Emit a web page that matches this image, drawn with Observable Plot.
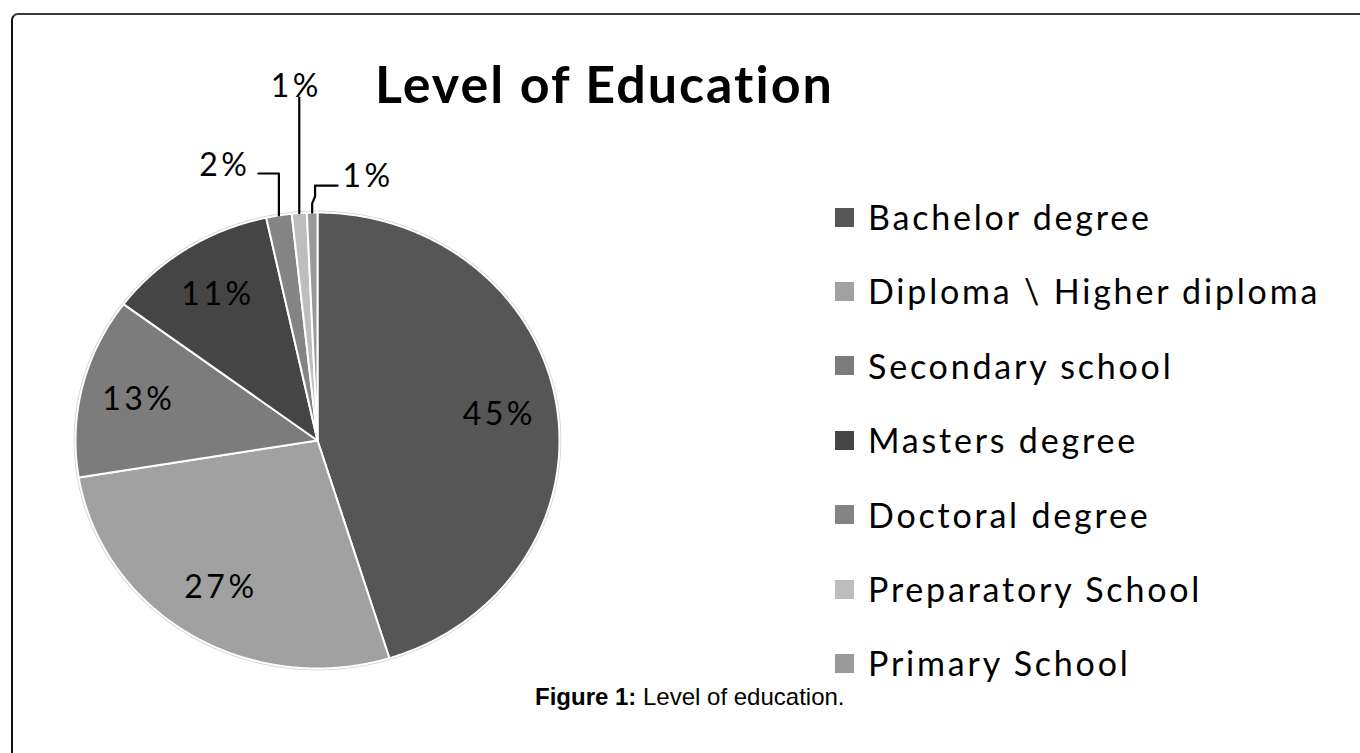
<!DOCTYPE html>
<html><head><meta charset="utf-8">
<script src="https://cdn.jsdelivr.net/npm/d3@7"></script>
<script src="https://cdn.jsdelivr.net/npm/@observablehq/plot@0.6"></script>
<style>
html,body{margin:0;padding:0;background:#fff;}
#wrap{position:relative;width:1360px;height:753px;overflow:hidden;background:#fff;}
#frame{position:absolute;left:11px;top:13px;width:1400px;height:800px;border-top:2px solid #383838;border-left:2px solid #111;border-top-left-radius:7px;}
#chart{position:absolute;left:0;top:0;}
#title{position:absolute;left:375px;top:57px;font-family:Lato;font-weight:bold;font-size:52px;letter-spacing:2px;color:#000;line-height:52px;white-space:nowrap;}
#legend{position:absolute;left:835px;top:0;}
.row{position:absolute;left:0;display:flex;align-items:center;height:32px;white-space:nowrap;font-family:Lato;font-size:34px;line-height:32px;letter-spacing:2.8px;color:#000;}
.sw{width:19px;height:19px;margin-right:14px;flex:none;}
#caption{position:absolute;left:535px;top:685px;font-family:"Liberation Sans",Arial,sans-serif;font-size:24px;line-height:24px;color:#000;white-space:nowrap;}
.pct{letter-spacing:3.5px;}
</style>
</head>
<body>
<div id="wrap">
  <div id="frame"></div>
  <div id="chart"></div>
  <div id="title">Level of Education</div>
  <div id="legend"></div>
  <div id="caption"><b>Figure 1:</b> Level of education.</div>
</div>
<script>
// ---- data ----
const categories = ["Bachelor degree", "Diploma \\ Higher diploma", "Secondary school", "Masters degree", "Doctoral degree", "Preparatory School", "Primary School"];
const shares = [45.2, 27.2, 12.8, 11.4, 1.7, 1.0, 0.7];
const labels = ["45%", "27%", "13%", "11%", "2%", "1%", "1%"];
const colors = ["#565656", "#a1a1a1", "#7c7c7c", "#454545", "#848484", "#bdbdbd", "#9a9a9a"];

// ---- geometry from data ----
const total = d3.sum(shares);
const cum = d3.cumsum(shares);
const slices = categories.map((name, i) => {
  const a0 = ((cum[i] - shares[i]) / total) * 2 * Math.PI;
  const a1 = (cum[i] / total) * 2 * Math.PI;
  return {name, i, a0, a1, mid: (a0 + a1) / 2, color: colors[i], label: labels[i]};
});
const slicePts = [];
for (const s of slices) {
  slicePts.push({name: s.name, color: s.color, x: 0, y: 0});
  const n = Math.max(2, Math.ceil((s.a1 - s.a0) / (Math.PI / 360)));
  for (let k = 0; k <= n; k++) {
    const a = s.a0 + (s.a1 - s.a0) * k / n;
    slicePts.push({name: s.name, color: s.color, x: Math.sin(a), y: -Math.cos(a)});
  }
  slicePts.push({name: s.name, color: s.color, x: 0, y: 0});
}
const rim = d3.range(0, 721).map(k => ({x: Math.sin(k * Math.PI / 360), y: -Math.cos(k * Math.PI / 360)}));

// inside labels for the four large slices
const inner = slices.slice(0, 4).map(s => ({x: 0.76 * Math.sin(s.mid), y: -0.76 * Math.cos(s.mid), text: s.label}));

// callouts for the three small slices (layout in plot units)
const anchor = s => [Math.sin(s.mid), -Math.cos(s.mid)];
const [dx4, dy4] = anchor(slices[4]);
const [dx5, dy5] = anchor(slices[5]);
const [dx6, dy6] = anchor(slices[6]);
const callouts = [
  {name: "d", x: dx4, y: dy4}, {name: "d", x: dx4, y: -1.171}, {name: "d", x: -0.244, y: -1.171},
  {name: "p", x: dx5, y: dy5}, {name: "p", x: dx5, y: -1.504},
  {name: "q", x: dx6, y: dy6}, {name: "q", x: dx6, y: -1.04}, {name: "q", x: dx6 + 0.012, y: -1.07}, {name: "q", x: dx6 + 0.012, y: -1.118}, {name: "q", x: 0.083, y: -1.118}
];
const lblEnd = [{x: -0.277, y: -1.206, text: slices[4].label}];
const lblMid = [{x: dx5 - 0.012, y: -1.553, text: slices[5].label}];
const lblStart = [{x: 0.103, y: -1.158, text: slices[6].label}];

const chart = Plot.plot({
  width: 1360, height: 753, margin: 0,
  x: {domain: [-1, 1], range: [75, 559], axis: null},
  y: {domain: [-1, 1], range: [212, 668], axis: null},
  color: {type: "identity"},
  style: {background: "transparent", fontFamily: "Lato", overflow: "visible"},
  marks: [
    Plot.line(rim, {x: "x", y: "y", stroke: "#cfcfcf", strokeWidth: 3.5, fill: "none"}),
    Plot.line(slicePts, {x: "x", y: "y", z: "name", fill: "color", stroke: "white", strokeWidth: 2, strokeLinejoin: "round"}),
    Plot.line(callouts, {x: "x", y: "y", z: "name", stroke: "#000", strokeWidth: 2.2}),
    Plot.text(inner, {x: "x", y: "y", text: "text", fontSize: 32, fill: "#000", className: "pct"}),
    Plot.text(lblEnd, {x: "x", y: "y", text: "text", fontSize: 32, fill: "#000", textAnchor: "end", className: "pct"}),
    Plot.text(lblMid, {x: "x", y: "y", text: "text", fontSize: 32, fill: "#000", className: "pct"}),
    Plot.text(lblStart, {x: "x", y: "y", text: "text", fontSize: 32, fill: "#000", textAnchor: "start", className: "pct"})
  ]
});
document.getElementById("chart").appendChild(chart);

// legend
const legend = document.getElementById("legend");
categories.forEach((c, i) => {
  const row = document.createElement("div");
  row.className = "row";
  row.style.top = (201 + i * 74.4) + "px";
  const sw = document.createElement("div");
  sw.className = "sw";
  sw.style.background = colors[i];
  const t = document.createElement("span");
  t.textContent = c;
  row.appendChild(sw); row.appendChild(t);
  legend.appendChild(row);
});
</script>
</body></html>
